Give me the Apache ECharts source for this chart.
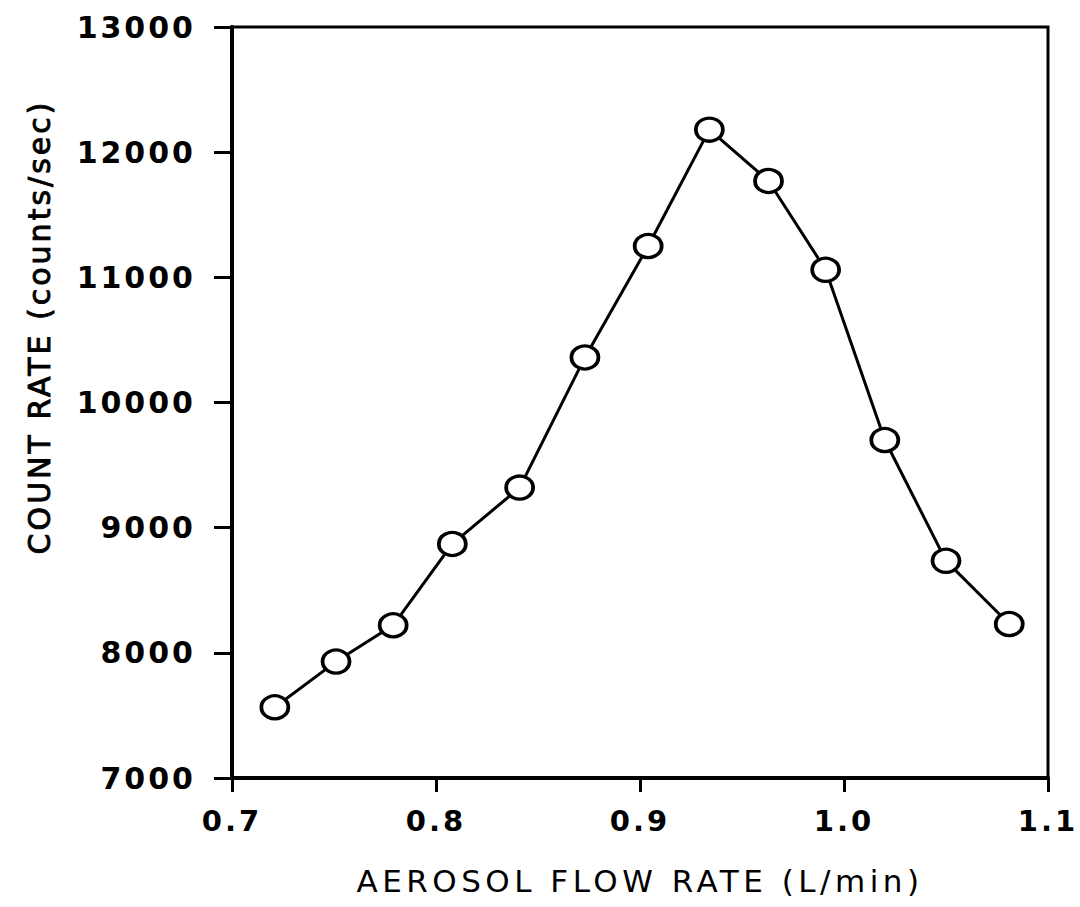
<!DOCTYPE html>
<html>
<head>
<meta charset="utf-8">
<title>Count rate vs aerosol flow rate</title>
<script src="https://cdn.jsdelivr.net/npm/echarts@6/dist/echarts.min.js"></script>
<style>
  html, body { margin: 0; padding: 0; background: #fff; }
  #chart { width: 1080px; height: 907px; }
  /* plotter-style lettering: wide spacing between characters */
  #chart text { letter-spacing: 3px; }
  #chart text[style*="31px"], #chart text[font-size="31"] { letter-spacing: 4.5px; }
</style>
</head>
<body>
<div id="chart"></div>
<script>
// Aerosol flow rate (L/min) and measured count rate (counts/sec)
const flowRate = [0.721, 0.751, 0.779, 0.808, 0.841, 0.873, 0.904, 0.934, 0.963, 0.991, 1.020, 1.050, 1.081];
const countRate = [7565, 7930, 8220, 8870, 9320, 10360, 11250, 12180, 11770, 11060, 9700, 8735, 8230];

const xTicks = [0.7, 0.8, 0.9, 1.0, 1.1];
const yTicks = [7000, 8000, 9000, 10000, 11000, 12000, 13000];

const xTitle = 'AEROSOL FLOW RATE (L/min)';
const yTitle = 'COUNT RATE (counts/sec)';

const points = flowRate.map((x, i) => [x, countRate[i]]);

const chart = echarts.init(document.getElementById('chart'), null, { renderer: 'svg' });
const fontFamily = '"DejaVu Sans", sans-serif';

chart.setOption({
  backgroundColor: '#fff',
  animation: false,
  grid: {
    left: 232, right: 32, top: 27, bottom: 129,
    show: true, borderColor: '#000', borderWidth: 3, backgroundColor: 'transparent'
  },
  xAxis: {
    type: 'value',
    min: xTicks[0], max: xTicks[xTicks.length - 1], interval: 0.1,
    name: xTitle,
    nameLocation: 'middle', nameGap: 87,
    nameTextStyle: { fontFamily, fontSize: 31, color: '#000' },
    axisLine: { show: true, lineStyle: { color: '#000', width: 4 } },
    axisTick: { show: true, inside: false, length: 14, lineStyle: { color: '#000', width: 3 } },
    axisLabel: {
      margin: 28, fontFamily, fontSize: 29, fontWeight: 'bold', color: '#000',
      formatter: v => v.toFixed(1)
    },
    splitLine: { show: false }
  },
  yAxis: {
    type: 'value',
    min: yTicks[0], max: yTicks[yTicks.length - 1], interval: 1000,
    axisLine: { show: true, lineStyle: { color: '#000', width: 4 } },
    axisTick: { show: true, inside: false, length: 18, lineStyle: { color: '#000', width: 3 } },
    axisLabel: {
      margin: 36, fontFamily, fontSize: 30, fontWeight: 'bold', color: '#000',
      formatter: v => String(v)
    },
    splitLine: { show: false }
  },
  graphic: [{
    // vertical axis title, read bottom to top
    type: 'text',
    x: 39, y: 327,
    rotation: Math.PI / 2,
    style: {
      text: yTitle,
      fontFamily, fontSize: 30, fill: '#000',
      stroke: '#000', lineWidth: 0.9,
      align: 'center', verticalAlign: 'middle'
    }
  }],
  series: [{
    type: 'line',
    data: points,
    symbol: 'circle',
    symbolSize: [27, 23],
    showAllSymbol: true,
    lineStyle: { color: '#000', width: 3 },
    itemStyle: { color: '#fff', borderColor: '#000', borderWidth: 3.5 }
  }]
});
</script>
</body>
</html>
